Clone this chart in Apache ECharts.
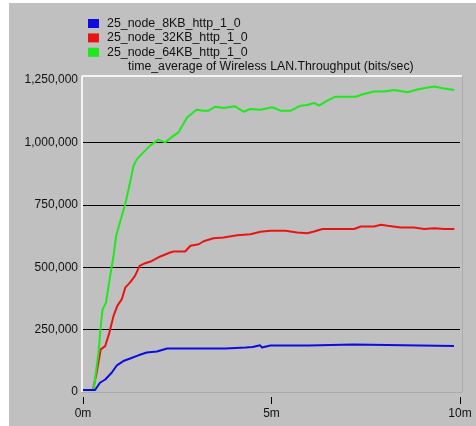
<!DOCTYPE html>
<html>
<head>
<meta charset="utf-8">
<script src="https://cdn.jsdelivr.net/npm/echarts@6/dist/echarts.min.js"></script>
<style>
  html, body { margin: 0; padding: 0; background: #ffffff; }
  #chart { width: 476px; height: 426px; }
</style>
</head>
<body>
<div id="chart"></div>
<script>
// Time-averaged wireless LAN throughput for three HTTP object sizes
const seriesNames = ['25_node_8KB_http_1_0', '25_node_32KB_http_1_0', '25_node_64KB_http_1_0'];
const chartTitle = 'time_average of Wireless LAN.Throughput (bits/sec)';

// simulation time in minutes, throughput in bits/sec
const blueTimes = [0, 0.32, 0.45, 0.59, 0.76, 0.90, 1.07, 1.25, 1.47, 1.69, 1.96, 2.23, 3.78, 3.80, 4.31, 4.50, 4.70, 4.75, 4.97, 5.98, 6.00, 7.17, 7.20, 9.84];
const blueValues = [8000, 8000, 37000, 50000, 77000, 107000, 124000, 134000, 147000, 158000, 162000, 174000, 174000, 178000, 178000, 180000, 187000, 178000, 186000, 186000, 190000, 190000, 184000, 184000];

const redTimes = [0.27, 0.36, 0.47, 0.59, 0.70, 0.81, 0.91, 1.03, 1.12, 1.25, 1.38, 1.50, 1.65, 1.83, 2.05, 2.31, 2.40, 2.71, 2.85, 3.07, 3.20, 3.46, 3.73, 4.09, 4.44, 4.71, 4.97, 5.37, 5.68, 5.95, 6.13, 6.35, 7.19, 7.37, 7.72, 7.90, 8.08, 8.43, 8.78, 9.05, 9.32, 9.58, 9.85];
const redValues = [12000, 77000, 171000, 184000, 238000, 305000, 345000, 372000, 418000, 439000, 465000, 505000, 516000, 525000, 543000, 559000, 563000, 563000, 586000, 592000, 604000, 616000, 619000, 628000, 632000, 642000, 646000, 646000, 639000, 636000, 643000, 653000, 653000, 663000, 663000, 670000, 666000, 659000, 659000, 653000, 656000, 653000, 653000];

const greenTimes = [0.27, 0.29, 0.41, 0.47, 0.52, 0.61, 0.72, 0.81, 0.88, 0.98, 1.12, 1.23, 1.34, 1.43, 1.60, 1.78, 2.00, 2.18, 2.36, 2.53, 2.76, 3.01, 3.20, 3.33, 3.51, 3.73, 4.02, 4.26, 4.44, 4.71, 5.02, 5.24, 5.51, 5.77, 5.95, 6.13, 6.26, 6.48, 6.70, 7.23, 7.45, 7.72, 7.99, 8.25, 8.61, 8.87, 9.14, 9.32, 9.54, 9.85];
const greenValues = [8000, 17000, 158000, 264000, 331000, 358000, 465000, 545000, 626000, 679000, 753000, 826000, 906000, 933000, 960000, 987000, 1011000, 1000000, 1022000, 1040000, 1100000, 1131000, 1127000, 1127000, 1143000, 1138000, 1145000, 1123000, 1134000, 1131000, 1141000, 1127000, 1127000, 1147000, 1150000, 1158000, 1147000, 1167000, 1183000, 1183000, 1194000, 1204000, 1204000, 1210000, 1201000, 1212000, 1220000, 1224000, 1217000, 1210000];

// axis ticks
const yTicks = [0, 250000, 500000, 750000, 1000000, 1250000];
const yTickLabels = ['0', '250,000', '500,000', '750,000', '1,000,000', '1,250,000'];
const xTicks = [0, 5, 10];
const xTickLabels = ['0m', '5m', '10m'];

const colors = ['#0c0ce0', '#e81414', '#1ee81e'];
const font = 'Liberation Sans, Arial, sans-serif';
const textColor = '#111';

function zip(ts, vs) { return ts.map((t, i) => [t, vs[i]]); }

const chart = echarts.init(document.getElementById('chart'), null, { renderer: 'canvas' });

// plot frame geometry (pixels)
const fx0 = 82, fy0 = 76, fx1 = 462, fy1 = 392;

chart.setOption({
  backgroundColor: '#c0c0c0',
  animation: false,
  color: colors,
  textStyle: { fontFamily: font },
  title: {
    text: chartTitle,
    left: 128, top: 61, padding: 0,
    textStyle: { fontSize: 12.3, fontWeight: 'normal', color: textColor, fontFamily: font }
  },
  legend: {
    orient: 'vertical',
    left: 88, top: 17.5, padding: 0,
    itemWidth: 11, itemHeight: 9, itemGap: 2.4,
    icon: 'rect',
    data: seriesNames,
    textStyle: { fontSize: 12.4, color: textColor, fontFamily: font, padding: [0, 0, 0, 3] }
  },
  grid: [
    // plotting area
    { left: 83, right: 16, top: 80, bottom: 34, containLabel: false },
    // strip holding the time scale, set just below the frame
    { left: 83, right: 16, top: 396, bottom: 29, containLabel: false }
  ],
  xAxis: [
    { type: 'value', gridIndex: 0, min: 0, max: 10, interval: 5,
      axisLine: { show: false }, axisTick: { show: false }, axisLabel: { show: false },
      splitLine: { show: false } },
    { type: 'value', gridIndex: 1, min: 0, max: 10, interval: 5, position: 'bottom',
      axisLine: { show: false },
      axisTick: { show: true, length: 7, lineStyle: { color: '#000', width: 1 } },
      axisLabel: {
        margin: 11, fontSize: 12, color: textColor, fontFamily: font,
        formatter: v => xTickLabels[xTicks.indexOf(v)] ?? ''
      },
      splitLine: { show: false } }
  ],
  yAxis: [
    { type: 'value', gridIndex: 0, min: 0, max: 1250000, interval: 250000,
      axisLine: { show: false },
      axisTick: { show: false },
      axisLabel: {
        margin: 5, fontSize: 12, color: textColor, fontFamily: font,
        formatter: v => yTickLabels[yTicks.indexOf(v)] ?? ''
      },
      splitLine: {
        show: true,
        lineStyle: { color: ['rgba(0,0,0,0)', '#000', '#000', '#000', '#000', 'rgba(0,0,0,0)'], width: 1 }
      } },
    { type: 'value', gridIndex: 1, show: false }
  ],
  graphic: [
    // white page edge strips
    { type: 'rect', shape: { x: 0, y: 0, width: 9, height: 426 }, style: { fill: '#ffffff' }, silent: true },
    { type: 'rect', shape: { x: 0, y: 0, width: 476, height: 3 }, style: { fill: '#ffffff' }, silent: true },
    // bevelled plot frame
    { type: 'line', shape: { x1: fx0, y1: fy0, x2: fx1, y2: fy0 }, style: { stroke: '#f4f4f4', lineWidth: 2 }, silent: true },
    { type: 'line', shape: { x1: fx0, y1: fy0, x2: fx0, y2: fy1 }, style: { stroke: '#f4f4f4', lineWidth: 2 }, silent: true },
    { type: 'line', shape: { x1: fx1 + 0.5, y1: fy0, x2: fx1 + 0.5, y2: fy1 }, style: { stroke: '#acacac', lineWidth: 1 }, silent: true },
    { type: 'line', shape: { x1: fx0, y1: fy1 + 0.5, x2: fx1, y2: fy1 + 0.5 }, style: { stroke: '#acacac', lineWidth: 1 }, silent: true }
  ],
  series: [
    { name: seriesNames[0], type: 'line', xAxisIndex: 0, yAxisIndex: 0, data: zip(blueTimes, blueValues),
      showSymbol: false, z: 4, lineStyle: { width: 2, color: colors[0] } },
    { name: seriesNames[1], type: 'line', xAxisIndex: 0, yAxisIndex: 0, data: zip(redTimes, redValues),
      showSymbol: false, z: 2, lineStyle: { width: 2, color: colors[1] } },
    { name: seriesNames[2], type: 'line', xAxisIndex: 0, yAxisIndex: 0, data: zip(greenTimes, greenValues),
      showSymbol: false, z: 3, lineStyle: { width: 2, color: colors[2] } }
  ]
});
</script>
</body>
</html>
